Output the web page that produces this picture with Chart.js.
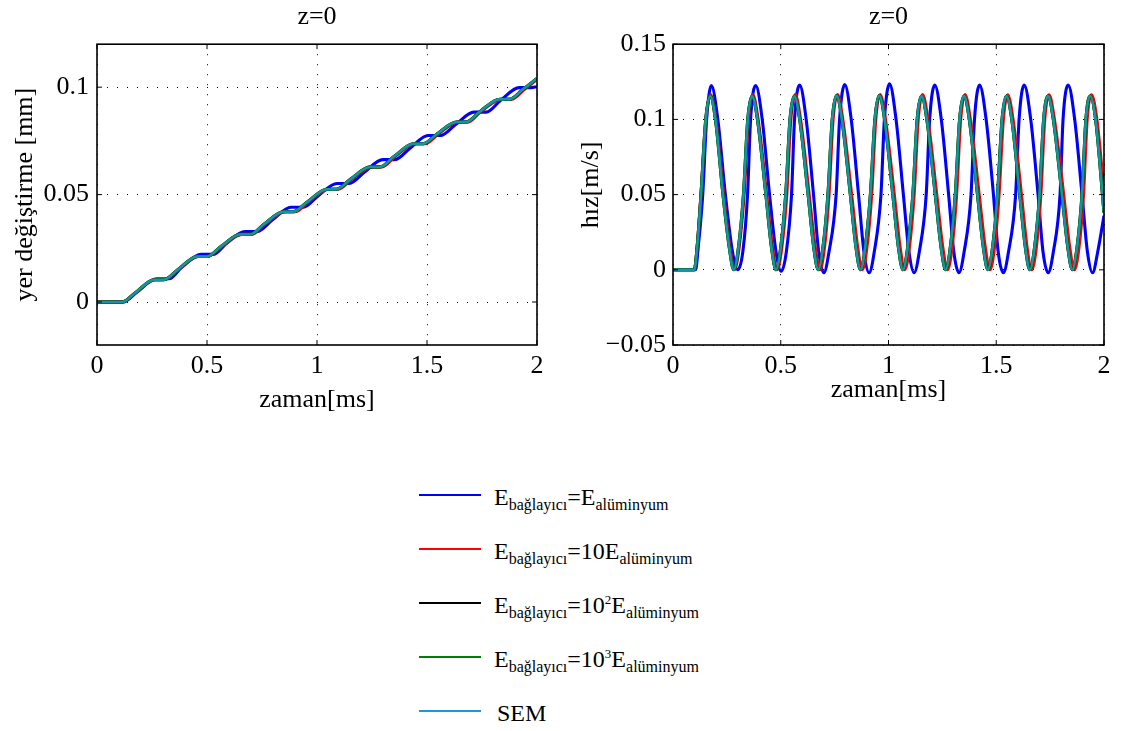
<!DOCTYPE html>
<html>
<head>
<meta charset="utf-8">
<script src="https://cdn.jsdelivr.net/npm/chart.js@4.4.0/dist/chart.umd.min.js"></script>
<style>
  body { margin: 0; background: #fff; width: 1132px; height: 731px; position: relative; overflow: hidden; font-family: 'Liberation Serif', serif; }
  #left { position: absolute; left: 0; top: 0; }
  #right { position: absolute; left: 560px; top: 0; }
  .swatch { position: absolute; left: 419px; width: 62px; height: 2px; }
  .label { position: absolute; left: 494px; font-family: 'Liberation Serif', serif; font-size: 24px; line-height: 24px; white-space: nowrap; color: #000; }
  .label sub { font-family: 'Liberation Serif', serif; font-size: 16px; vertical-align: baseline; position: relative; top: 5px; }
  .label sup { font-family: 'Liberation Serif', serif; font-size: 13px; vertical-align: baseline; position: relative; top: -9px; }
</style>
</head>
<body>
<canvas id="left" width="560" height="420"></canvas>
<canvas id="right" width="572" height="420"></canvas>
<div id="legend"></div>
<script>
// tick labels
const xTicks = [0, 0.5, 1, 1.5, 2];
const dispTicks = [0, 0.05, 0.1];
const velTicks = [-0.05, 0, 0.05, 0.1, 0.15];

// legend
const legendLabels = [
  'E<sub>bağlayıcı</sub>=E<sub>alüminyum</sub>',
  'E<sub>bağlayıcı</sub>=10E<sub>alüminyum</sub>',
  'E<sub>bağlayıcı</sub>=10<sup>2</sup>E<sub>alüminyum</sub>',
  'E<sub>bağlayıcı</sub>=10<sup>3</sup>E<sub>alüminyum</sub>',
  'SEM'
];
const seriesNames = ['E=E', 'E=10E', 'E=10^2E', 'E=10^3E', 'SEM'];

// displacement [mm] vs time [ms], [t, y]
const dispBlue = [[0,0],[0.12,0],[0.178,0.0043],[0.272,0.0108],[0.328,0.0108],[0.384,0.0160],[0.474,0.0222],[0.530,0.0222],
  [0.588,0.0272],[0.672,0.0328],[0.728,0.0328],[0.797,0.0382],[0.882,0.0441],[0.938,0.0441],[1.005,0.0494],[1.091,0.0552],
  [1.147,0.0552],[1.215,0.0604],[1.299,0.0663],[1.355,0.0663],[1.423,0.0716],[1.505,0.0775],[1.561,0.0775],[1.630,0.0826],
  [1.713,0.0884],[1.769,0.0884],[1.834,0.0938],[1.919,0.0998],[1.975,0.0998],[2.0,0.1002]];
const dispRed = [[0,0],[0.115,0],[0.174,0.0042],[0.264,0.0104],[0.304,0.0104],[0.370,0.0150],[0.461,0.0212],[0.501,0.0212],
  [0.567,0.0258],[0.659,0.0315],[0.703,0.0315],[0.763,0.0362],[0.856,0.0420],[0.900,0.0420],[0.961,0.0467],[1.054,0.0525],
  [1.098,0.0525],[1.158,0.0572],[1.252,0.0629],[1.296,0.0629],[1.355,0.0677],[1.447,0.0737],[1.491,0.0737],[1.553,0.0783],
  [1.642,0.0838],[1.686,0.0838],[1.745,0.0886],[1.840,0.0944],[1.884,0.0944],[1.942,0.0989],[2.0,0.1037]];
const dispGreen = [[0,0],[0.115,0],[0.173,0.0042],[0.260,0.0104],[0.304,0.0104],[0.367,0.0150],[0.456,0.0212],[0.500,0.0212],
  [0.563,0.0258],[0.652,0.0315],[0.696,0.0315],[0.759,0.0362],[0.848,0.0420],[0.892,0.0420],[0.957,0.0467],[1.045,0.0525],
  [1.089,0.0525],[1.153,0.0572],[1.243,0.0629],[1.287,0.0629],[1.350,0.0677],[1.439,0.0737],[1.483,0.0737],[1.547,0.0783],
  [1.634,0.0838],[1.678,0.0838],[1.740,0.0886],[1.831,0.0944],[1.875,0.0944],[1.936,0.0990],[2.0,0.1040]];
// black and SEM lie under the green curve in the picture
const dispBlack = dispGreen;
const dispSem = dispGreen;

// velocity [m/s] vs time [ms], [t, v]
const velBlue = [[0,0],[0.105,0],[0.117,0.015],[0.138,0.05],[0.156,0.1],[0.178,0.1225],[0.208,0.1],[0.243,0.05],[0.276,0.012],[0.300,0],
  [0.324,0.012],[0.346,0.05],[0.360,0.1],[0.384,0.1225],[0.414,0.1],[0.448,0.05],[0.478,0.012],[0.502,-0.001],
  [0.526,0.012],[0.550,0.05],[0.564,0.1],[0.588,0.1228],[0.618,0.1],[0.652,0.05],[0.676,0.012],[0.700,-0.002],
  [0.724,0.012],[0.757,0.05],[0.773,0.1],[0.797,0.1232],[0.827,0.1],[0.861,0.05],[0.886,0.012],[0.910,-0.002],
  [0.934,0.012],[0.965,0.05],[0.981,0.1],[1.005,0.1236],[1.035,0.1],[1.069,0.05],[1.095,0.012],[1.119,-0.002],
  [1.143,0.012],[1.175,0.05],[1.191,0.1],[1.215,0.1228],[1.245,0.1],[1.279,0.05],[1.303,0.012],[1.327,-0.002],
  [1.351,0.012],[1.383,0.05],[1.399,0.1],[1.423,0.1228],[1.453,0.1],[1.487,0.05],[1.509,0.012],[1.533,-0.002],
  [1.557,0.012],[1.590,0.05],[1.606,0.1],[1.630,0.1228],[1.660,0.1],[1.694,0.05],[1.717,0.012],[1.741,-0.002],
  [1.765,0.012],[1.796,0.05],[1.810,0.1],[1.834,0.1228],[1.864,0.1],[1.898,0.05],[1.923,0.012],[1.947,-0.002],
  [1.971,0.012],[2.0,0.036]];
const velRed = [[0,0],[0.099,0],[0.112,0.015],[0.130,0.05],[0.153,0.1],[0.174,0.1165],[0.199,0.1],[0.235,0.05],[0.264,0.015],[0.285,0],
  [0.307,0.015],[0.330,0.05],[0.350,0.1],[0.370,0.1165],[0.395,0.1],[0.435,0.05],[0.462,0.015],[0.483,0],
  [0.505,0.015],[0.528,0.05],[0.547,0.1],[0.567,0.1165],[0.592,0.1],[0.632,0.05],[0.660,0.015],[0.681,0],
  [0.703,0.015],[0.724,0.05],[0.743,0.1],[0.763,0.1165],[0.788,0.1],[0.829,0.05],[0.857,0.015],[0.878,0],
  [0.900,0.015],[0.922,0.05],[0.941,0.1],[0.961,0.1165],[0.986,0.1],[1.027,0.05],[1.054,0.015],[1.075,0],
  [1.097,0.015],[1.119,0.05],[1.138,0.1],[1.158,0.1165],[1.183,0.1],[1.224,0.05],[1.252,0.015],[1.273,0],
  [1.295,0.015],[1.316,0.05],[1.335,0.1],[1.355,0.1165],[1.380,0.1],[1.421,0.05],[1.449,0.015],[1.470,0],
  [1.492,0.015],[1.513,0.05],[1.533,0.1],[1.553,0.1163],[1.578,0.1],[1.617,0.05],[1.643,0.015],[1.664,0],
  [1.686,0.015],[1.707,0.05],[1.725,0.1],[1.745,0.1163],[1.770,0.1],[1.813,0.05],[1.841,0.015],[1.862,0],
  [1.884,0.015],[1.905,0.05],[1.922,0.1],[1.942,0.1163],[1.967,0.1],[2.0,0.052]];
const velGreen = [[0,0],[0.099,0],[0.112,0.015],[0.130,0.05],[0.152,0.1],[0.173,0.1155],[0.197,0.1],[0.232,0.05],[0.261,0.015],[0.282,0],
  [0.304,0.015],[0.327,0.05],[0.347,0.1],[0.367,0.1155],[0.392,0.1],[0.431,0.05],[0.457,0.015],[0.478,0],
  [0.500,0.015],[0.523,0.05],[0.543,0.1],[0.563,0.1155],[0.588,0.1],[0.627,0.05],[0.653,0.015],[0.674,0],
  [0.696,0.015],[0.719,0.05],[0.739,0.1],[0.759,0.1158],[0.784,0.1],[0.823,0.05],[0.849,0.015],[0.870,0],
  [0.892,0.015],[0.916,0.05],[0.937,0.1],[0.957,0.1158],[0.982,0.1],[1.020,0.05],[1.046,0.015],[1.067,0],
  [1.089,0.015],[1.113,0.05],[1.133,0.1],[1.153,0.1156],[1.178,0.1],[1.217,0.05],[1.244,0.015],[1.265,0],
  [1.287,0.015],[1.310,0.05],[1.330,0.1],[1.350,0.1156],[1.375,0.1],[1.413,0.05],[1.440,0.015],[1.461,0],
  [1.483,0.015],[1.506,0.05],[1.527,0.1],[1.547,0.1156],[1.572,0.1],[1.609,0.05],[1.635,0.015],[1.656,0],
  [1.678,0.015],[1.701,0.05],[1.720,0.1],[1.740,0.1156],[1.765,0.1],[1.805,0.05],[1.832,0.015],[1.853,0],
  [1.875,0.015],[1.898,0.05],[1.916,0.1],[1.936,0.1156],[1.961,0.1],[2.0,0.038]];
const velBlack = velGreen;
const velSem = velGreen;

const lineColors = ['#0000ff', '#ff0000', '#000000', '#008000', 'rgba(28,150,215,0.8)'];
const legendColors = ['#0000ff', '#ff0000', '#000000', '#008000', '#1f96d8'];

const FONT = { family: "'Liberation Serif', serif", size: 26, weight: 'normal' };

function fmt(v) {
  return v < 0 ? '\u2212' + String(-v) : String(v);
}

function toPoints(pairs) {
  return pairs.map(p => ({ x: p[0], y: p[1] }));
}

function buildDatasets(list) {
  return list.map((pairs, i) => ({
    label: seriesNames[i],
    data: toPoints(pairs),
    borderColor: lineColors[i],
    borderWidth: i === 4 ? 2.4 : 3.1,
    pointRadius: 0,
    fill: false,
    cubicInterpolationMode: 'monotone',
    order: list.length - 1 - i
  }));
}

// MATLAB-like box with inward tick marks
const boxPlugin = {
  id: 'box',
  afterDraw(chart) {
    const { ctx, chartArea: a, scales } = chart;
    ctx.save();
    ctx.strokeStyle = '#000';
    ctx.lineWidth = 1;
    ctx.beginPath();
    scales.x.ticks.forEach(t => {
      const x = scales.x.getPixelForValue(t.value);
      ctx.moveTo(x, a.bottom); ctx.lineTo(x, a.bottom - 5);
      ctx.moveTo(x, a.top); ctx.lineTo(x, a.top + 5);
    });
    scales.y.ticks.forEach(t => {
      const y = scales.y.getPixelForValue(t.value);
      ctx.moveTo(a.left, y); ctx.lineTo(a.left + 5, y);
      ctx.moveTo(a.right, y); ctx.lineTo(a.right - 5, y);
    });
    ctx.stroke();
    ctx.lineWidth = 1.6;
    ctx.strokeRect(a.left, a.top, a.right - a.left, a.bottom - a.top);
    ctx.restore();
  }
};

function drawPlot(id, series, opts) {
  const ctx = document.getElementById(id).getContext('2d');
  return new Chart(ctx, {
    type: 'line',
    data: { datasets: buildDatasets(series) },
    options: {
      responsive: false,
      animation: false,
      layout: { padding: { left: 0, right: opts.rightPad, top: 0, bottom: 0 } },
      plugins: {
        legend: { display: false },
        tooltip: { enabled: false },
        title: {
          display: true, text: 'z=0', fullSize: false, color: '#000',
          font: FONT, padding: { top: 2, bottom: 11 }
        }
      },
      scales: {
        x: {
          type: 'linear', min: 0, max: 2,
          afterBuildTicks: s => { s.ticks = xTicks.map(v => ({ value: v })); },
          afterFit: s => { s.height = 75; },
          ticks: { color: '#000', font: FONT, padding: 6, maxRotation: 0, callback: fmt },
          grid: { color: '#000', lineWidth: 1, drawTicks: false },
          border: { display: false, dash: [1, 9] },
          title: { display: true, text: 'zaman[ms]', color: '#000', font: FONT, padding: { top: 0, bottom: opts.xTitlePad } }
        },
        y: {
          type: 'linear', min: opts.yMin, max: opts.yMax,
          afterBuildTicks: s => { s.ticks = opts.yTicks.map(v => ({ value: v })); },
          afterFit: s => { s.width = opts.yWidth; },
          ticks: { color: '#000', font: FONT, padding: opts.yTickPad, callback: fmt },
          grid: { color: '#000', lineWidth: 1, drawTicks: false },
          border: { display: false, dash: [1, 9] },
          title: { display: true, text: opts.yTitle, color: '#000', font: FONT, padding: { top: opts.yTitlePad, bottom: 0 } }
        }
      }
    },
    plugins: [boxPlugin]
  });
}

drawPlot('left', [dispBlue, dispRed, dispBlack, dispGreen, dispSem], {
  yMin: -0.02, yMax: 0.12, yTicks: dispTicks, yTitle: 'yer değiştirme [mm]',
  yWidth: 97, rightPad: 23, yTitlePad: 10, yTickPad: 8, xTitlePad: 4
});

drawPlot('right', [velBlue, velRed, velBlack, velGreen, velSem], {
  yMin: -0.05, yMax: 0.15, yTicks: velTicks, yTitle: '   hız[m/s]',
  yWidth: 113, rightPad: 28, yTitlePad: 16, yTickPad: 7, xTitlePad: 14
});

// legend below the plots
const legend = document.getElementById('legend');
legendLabels.forEach((html, i) => {
  const y = 495 + 54 * i;
  const sw = document.createElement('div');
  sw.className = 'swatch';
  sw.style.top = (y - 1) + 'px';
  sw.style.background = legendColors[i];
  legend.appendChild(sw);

  const lab = document.createElement('div');
  lab.className = 'label';
  lab.style.top = (y - 10) + 'px';
  if (i === 4) lab.style.left = '497px';
  lab.innerHTML = html;
  legend.appendChild(lab);
});
</script>
</body>
</html>
